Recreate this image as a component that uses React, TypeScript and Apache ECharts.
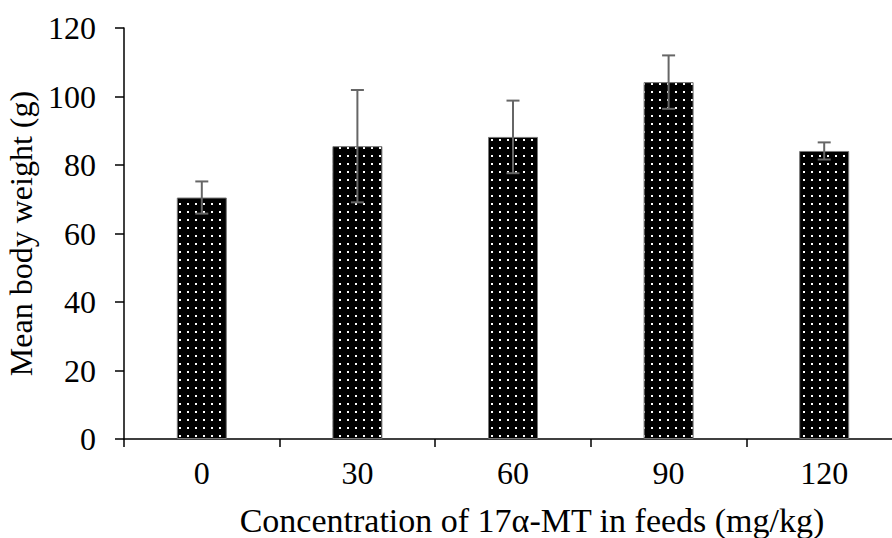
import React, { useEffect, useRef } from "react";
import * as echarts from "echarts";

const categories = ["0", "30", "60", "90", "120"];
const meanWeight = [70.5, 85.5, 88.2, 104.2, 84.1];
const errorSD = [4.7, 16.4, 10.6, 7.8, 2.5];
const yTicks = { min: 0, max: 120, interval: 20 };

function makePattern(): string {
  const c = document.createElement("canvas");
  c.width = 8;
  c.height = 8;
  const ctx = c.getContext("2d")!;
  ctx.fillStyle = "#000";
  ctx.fillRect(0, 0, 8, 8);
  ctx.fillStyle = "#fff";
  ctx.fillRect(3, 3, 2, 2);
  return c.toDataURL();
}

export default function App() {
  const ref = useRef<HTMLDivElement>(null);
  useEffect(() => {
    if (!ref.current) return;
    const chart = echarts.init(ref.current, null, { renderer: "svg" });
    const font = "'Liberation Serif', 'Times New Roman', serif";
    const fs = 32;
    const pattern = makePattern();
    chart.setOption({
      animation: false,
      textStyle: { fontFamily: font },
      grid: { left: 124, top: 28, bottom: 99, right: 8, containLabel: false, outerBoundsMode: "none" },
      xAxis: {
        type: "category",
        data: categories,
        boundaryGap: true,
        axisLine: { lineStyle: { color: "#000", width: 1.5 } },
        axisTick: { show: true, length: 8, inside: false, alignWithLabel: false, lineStyle: { color: "#000", width: 1.5 } },
        axisLabel: { color: "#000", fontSize: fs, fontFamily: font, margin: 18 },
      },
      yAxis: {
        type: "value",
        min: yTicks.min,
        max: yTicks.max,
        interval: yTicks.interval,
        splitLine: { show: false },
        axisLine: { show: true, lineStyle: { color: "#000", width: 1.5 } },
        axisTick: { show: true, length: 9, lineStyle: { color: "#000", width: 1.5 } },
        axisLabel: { color: "#000", fontSize: fs, fontFamily: font, margin: 28 },
        name: "Mean body weight (g)",
        nameLocation: "middle",
        nameGap: 84,
        nameTextStyle: { color: "#000", fontSize: fs, fontFamily: font },
      },
      graphic: [
        {
          type: "text",
          x: 532,
          y: 520,
          style: {
            text: "Concentration of 17α-MT in feeds (mg/kg)",
            fill: "#000",
            font: `34px ${font}`,
            textAlign: "center",
            textVerticalAlign: "middle",
          },
        },
      ],
      series: [
        {
          type: "bar",
          data: meanWeight,
          barWidth: 50,
          itemStyle: {
            color: { image: pattern, repeat: "repeat" },
            borderColor: "#777",
            borderWidth: 1,
          },
          z: 2,
        },
        {
          type: "custom",
          z: 3,
          data: meanWeight.map((v, i) => [i, v - errorSD[i], v + errorSD[i]]),
          renderItem: (params: any, api: any) => {
            const x = api.value(0);
            const lo = api.coord([x, api.value(1)]);
            const hi = api.coord([x, api.value(2)]);
            const cap = 6.5;
            const style = { stroke: "#666", lineWidth: 2, fill: "none" };
            return {
              type: "group",
              children: [
                { type: "line", shape: { x1: lo[0], y1: lo[1], x2: hi[0], y2: hi[1] }, style },
                { type: "line", shape: { x1: lo[0] - cap, y1: lo[1], x2: lo[0] + cap, y2: lo[1] }, style },
                { type: "line", shape: { x1: hi[0] - cap, y1: hi[1], x2: hi[0] + cap, y2: hi[1] }, style },
              ],
            };
          },
        },
      ],
    });
    return () => chart.dispose();
  }, []);
  return (
    <div style={{ position: "absolute", left: 0, top: 0, width: 892, height: 538, overflow: "hidden" }}>
      <div ref={ref} style={{ width: 910, height: 538 }} />
    </div>
  );
}
